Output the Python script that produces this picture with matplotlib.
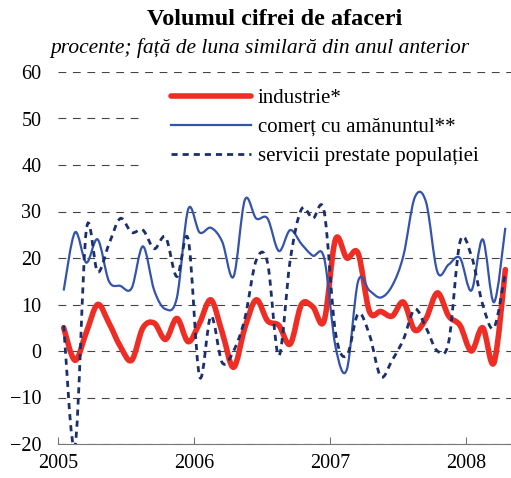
import numpy as np
import matplotlib.pyplot as plt
from matplotlib.path import Path
from matplotlib.patches import PathPatch, Rectangle
from matplotlib.lines import Line2D

plt.rcParams['font.family'] = ['Liberation Serif', 'DejaVu Serif']

# date lunare, ian 2005 - apr 2008 (%, fata de luna similara din anul anterior)
luni = np.arange(40)
industrie = [5, -2, 4, 10, 6, 1, -2, 5, 6, 2.5, 7, 2,
             6, 11, 4, -3.5, 5, 11, 6.5, 5.5, 1.5, 10, 9.5, 6.5,
             24, 20, 21, 8.5, 8.5, 7.5, 10.5, 4.5, 7, 12.5, 7.5, 5.5,
             0, 5, -2.5, 17.5]
comert = [13, 25.5, 19, 24, 15, 14, 13.5, 22.5, 13, 9, 11.5, 30.5,
          25.5, 26.5, 23.5, 16, 32.5, 28.5, 28.5, 21.5, 26, 23, 20.5, 20,
          1, -4, 15, 13, 11.5, 14, 20.5, 33, 32, 17, 18.6, 20,
          13, 24, 10.5, 26.5]
servicii = [5.5, -20.5, 26, 17, 23, 28.5, 25.5, 26, 22, 24.5, 16, 24,
            -5.5, 7.5, -2.5, 0, 7, 19.5, 19, -1, 19.5, 30.5, 28.5, 30,
            4, -1, 8, 3.5, -5.5, -2, 2.5, 9, 5, 0, 2, 23.5,
            20.5, 10, 5, 17]
etichete = ['industrie*', 'comerț cu amănuntul**', 'servicii prestate populației']
ani = [2005, 2006, 2007, 2008]

x = 2005 + (luni + 0.5) / 12


def curba(xs, ys):
    # linie netezita (ca in Excel): segmente Bezier prin punctele lunare
    p = np.column_stack([xs, ys])
    n = len(p)
    verts = [p[0]]
    codes = [Path.MOVETO]
    for i in range(n - 1):
        p0 = p[max(i - 1, 0)]
        p3 = p[min(i + 2, n - 1)]
        verts += [p[i] + (p[i + 1] - p0) / 6, p[i + 1] - (p3 - p[i]) / 6, p[i + 1]]
        codes += [Path.CURVE4] * 3
    return Path(verts, codes)


rosu = '#ee2e24'
albastru = '#3453aa'
bleumarin = '#1b2f6b'

fig = plt.figure(figsize=(5.11, 4.78), dpi=100)
ax = fig.add_axes([58 / 511, 34 / 478, 453 / 511, 372 / 478])

ax.add_patch(PathPatch(curba(x, industrie), fill=False, ec=rosu, lw=4.0,
                       capstyle='round', joinstyle='round', zorder=3))
ax.add_patch(PathPatch(curba(x, comert), fill=False, ec=albastru, lw=1.6, zorder=4))
ax.add_patch(PathPatch(curba(x, servicii), fill=False, ec=bleumarin, lw=2.0,
                       linestyle=(0, (2.2, 1.8)), zorder=5))

ax.set_xlim(2005, 2005 + 40 / 12)
ax.set_ylim(-20, 60)
ax.set_yticks(range(-20, 61, 10))
ax.set_xticks(ani)
ax.set_xticklabels([str(a) for a in ani])

ax.yaxis.grid(True, color='#444444', lw=0.8, linestyle=(0, (7, 6)))
ax.set_axisbelow(True)
for s in ['top', 'right', 'left']:
    ax.spines[s].set_visible(False)
ax.spines['bottom'].set_color('#777777')
ax.tick_params(axis='y', length=0, pad=12, labelsize=14.5)
ax.tick_params(axis='x', direction='in', length=5, color='#777777', pad=7, labelsize=14.5)

# fundal alb sub legenda
ax.add_patch(Rectangle((0.18, 0.74), 0.82, 0.245, transform=ax.transAxes,
                       fc='white', ec='none', zorder=1.5))

handles = [Line2D([], [], color=rosu, lw=4.0, solid_capstyle='round'),
           Line2D([], [], color=albastru, lw=1.6),
           Line2D([], [], color=bleumarin, lw=2.0, linestyle=(0, (2.2, 1.8)))]
ax.legend(handles, etichete, loc='upper left', bbox_to_anchor=(0.25, 0.955),
          frameon=False, fontsize=15, handlelength=3.85, handletextpad=0.3,
          labelspacing=0.44, borderpad=0, borderaxespad=0)

fig.text(0.538, 0.960, 'Volumul cifrei de afaceri', ha='center', va='center',
         fontsize=17.5, fontweight='bold')
fig.text(0.509, 0.900, 'procente; față de luna similară din anul anterior',
         ha='center', va='center', fontsize=15.5, style='italic')

fig.savefig('out.png', dpi=100)
